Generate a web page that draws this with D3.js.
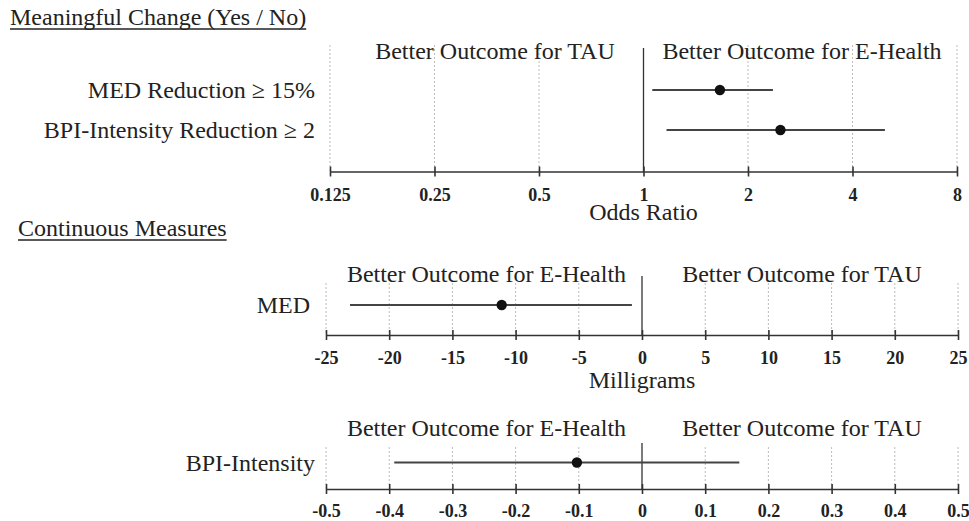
<!DOCTYPE html>
<html>
<head>
<meta charset="utf-8">
<script src="https://cdn.jsdelivr.net/npm/d3@7/dist/d3.min.js"></script>
<style>
  html, body { margin: 0; padding: 0; background: #fff; }
  svg { display: block; }
  text { font-family: "Liberation Serif", "Times New Roman", serif; fill: #222; }
</style>
</head>
<body>
<svg id="chart" width="969" height="521"></svg>
<script>
// ---------- Data ----------
const orLabels = ["MED Reduction \u2265 15%", "BPI-Intensity Reduction \u2265 2"];
const orEst = [1.66, 2.48];
const orLow = [1.06, 1.165];
const orHigh = [2.36, 4.96];
const orTicks = [0.125, 0.25, 0.5, 1, 2, 4, 8];
const orTickLabels = ["0.125", "0.25", "0.5", "1", "2", "4", "8"];

const medLabels = ["MED"];
const medEst = [-11.1];
const medLow = [-23.1];
const medHigh = [-0.8];
const medTicks = [-25, -20, -15, -10, -5, 0, 5, 10, 15, 20, 25];
const medTickLabels = ["-25", "-20", "-15", "-10", "-5", "0", "5", "10", "15", "20", "25"];

const bpiLabels = ["BPI-Intensity"];
const bpiEst = [-0.103];
const bpiLow = [-0.392];
const bpiHigh = [0.154];
const bpiTicks = [-0.5, -0.4, -0.3, -0.2, -0.1, 0, 0.1, 0.2, 0.3, 0.4, 0.5];
const bpiTickLabels = ["-0.5", "-0.4", "-0.3", "-0.2", "-0.1", "0", "0.1", "0.2", "0.3", "0.4", "0.5"];

// ---------- Drawing ----------
const svg = d3.select("#chart");

function sectionTitle(text, x, y) {
  const t = svg.append("text").attr("x", x).attr("y", y)
    .attr("font-size", 24).text(text);
  const w = t.node().getComputedTextLength();
  svg.append("line").attr("x1", x).attr("x2", x + w)
    .attr("y1", y + 4).attr("y2", y + 4)
    .attr("stroke", "#222").attr("stroke-width", 1.6);
}

function panel(cfg) {
  const x = cfg.x;
  const rows = d3.scalePoint().domain(cfg.labels).range(cfg.rowRange);
  const g = svg.append("g");
  const x0 = x(cfg.nullValue);

  // gridlines
  g.selectAll(".grid").data(cfg.ticks.filter(t => t !== cfg.nullValue)).enter()
    .append("line")
    .attr("x1", d => x(d)).attr("x2", d => x(d))
    .attr("y1", cfg.gridTop).attr("y2", cfg.axisY)
    .attr("stroke", "#bdbdbd").attr("stroke-width", 1)
    .attr("stroke-dasharray", "2,2");

  // null line
  g.append("line").attr("x1", x0).attr("x2", x0)
    .attr("y1", cfg.nullTop).attr("y2", cfg.axisY)
    .attr("stroke", "#333").attr("stroke-width", 1.3);

  // axis
  const axis = d3.axisBottom(x).tickValues(cfg.ticks)
    .tickFormat((d, i) => cfg.tickLabels[i]).tickSizeInner(5).tickSizeOuter(0).tickPadding(16);
  const ag = g.append("g").attr("transform", `translate(0,${cfg.axisY})`).call(axis);
  ag.select(".domain").attr("stroke", "#333").attr("stroke-width", 1.6);
  ag.selectAll(".tick line").attr("stroke", "#333").attr("stroke-width", 1.6)
    .attr("y1", -5).attr("y2", 5);
  ag.selectAll(".tick text")
    .attr("font-family", "'Liberation Serif', 'Times New Roman', serif")
    .attr("font-size", 18).attr("font-weight", "bold").attr("fill", "#222")
    .attr("dy", "0.71em").attr("y", cfg.tickTextY);

  // axis title
  if (cfg.axisTitle) {
    g.append("text").attr("x", x0).attr("y", cfg.axisTitleY)
      .attr("text-anchor", "middle").attr("font-size", 24).text(cfg.axisTitle);
  }

  // headers
  g.append("text").attr("x", cfg.leftHeaderX).attr("y", cfg.headerY)
    .attr("text-anchor", "middle").attr("font-size", 24).text(cfg.leftHeader);
  g.append("text").attr("x", cfg.rightHeaderX).attr("y", cfg.headerY)
    .attr("text-anchor", "middle").attr("font-size", 24).text(cfg.rightHeader);

  // row labels
  g.selectAll(".rowlab").data(cfg.labels).enter().append("text")
    .attr("x", cfg.labelX).attr("y", d => rows(d) + 8)
    .attr("text-anchor", "end").attr("font-size", 24).text(d => d);

  // CIs
  g.selectAll(".ci").data(cfg.labels).enter().append("line")
    .attr("x1", (d, i) => x(cfg.low[i])).attr("x2", (d, i) => x(cfg.high[i]))
    .attr("y1", d => rows(d)).attr("y2", d => rows(d))
    .attr("stroke", "#444").attr("stroke-width", 2);
  g.selectAll(".pt").data(cfg.labels).enter().append("circle")
    .attr("cx", (d, i) => x(cfg.est[i])).attr("cy", d => rows(d))
    .attr("r", 5.2).attr("fill", "#111");
}

sectionTitle("Meaningful Change (Yes / No)", 10, 25);
sectionTitle("Continuous Measures", 18, 236);

panel({
  x: d3.scaleLog().base(2).domain([0.125, 8]).range([330, 957]),
  labels: orLabels, est: orEst, low: orLow, high: orHigh,
  ticks: orTicks, tickLabels: orTickLabels, nullValue: 1,
  rowRange: [90, 130], axisY: 171.5, gridTop: 45, nullTop: 48,
  tickTextY: 17, axisTitle: "Odds Ratio", axisTitleY: 220,
  headerY: 59, leftHeader: "Better Outcome for TAU", rightHeader: "Better Outcome for E-Health",
  leftHeaderX: 495, rightHeaderX: 802, labelX: 315
});

panel({
  x: d3.scaleLinear().domain([-25, 25]).range([326, 958]),
  labels: medLabels, est: medEst, low: medLow, high: medHigh,
  ticks: medTicks, tickLabels: medTickLabels, nullValue: 0,
  rowRange: [305, 305], axisY: 335, gridTop: 283, nullTop: 276,
  tickTextY: 16, axisTitle: "Milligrams", axisTitleY: 388,
  headerY: 282, leftHeader: "Better Outcome for E-Health", rightHeader: "Better Outcome for TAU",
  leftHeaderX: 486.5, rightHeaderX: 802, labelX: 310
});

panel({
  x: d3.scaleLinear().domain([-0.5, 0.5]).range([326, 958]),
  labels: bpiLabels, est: bpiEst, low: bpiLow, high: bpiHigh,
  ticks: bpiTicks, tickLabels: bpiTickLabels, nullValue: 0,
  rowRange: [462.5, 462.5], axisY: 489, gridTop: 447, nullTop: 443,
  tickTextY: 15, axisTitle: null, axisTitleY: 0,
  headerY: 436, leftHeader: "Better Outcome for E-Health", rightHeader: "Better Outcome for TAU",
  leftHeaderX: 486.5, rightHeaderX: 802, labelX: 315
});
</script>
</body>
</html>
